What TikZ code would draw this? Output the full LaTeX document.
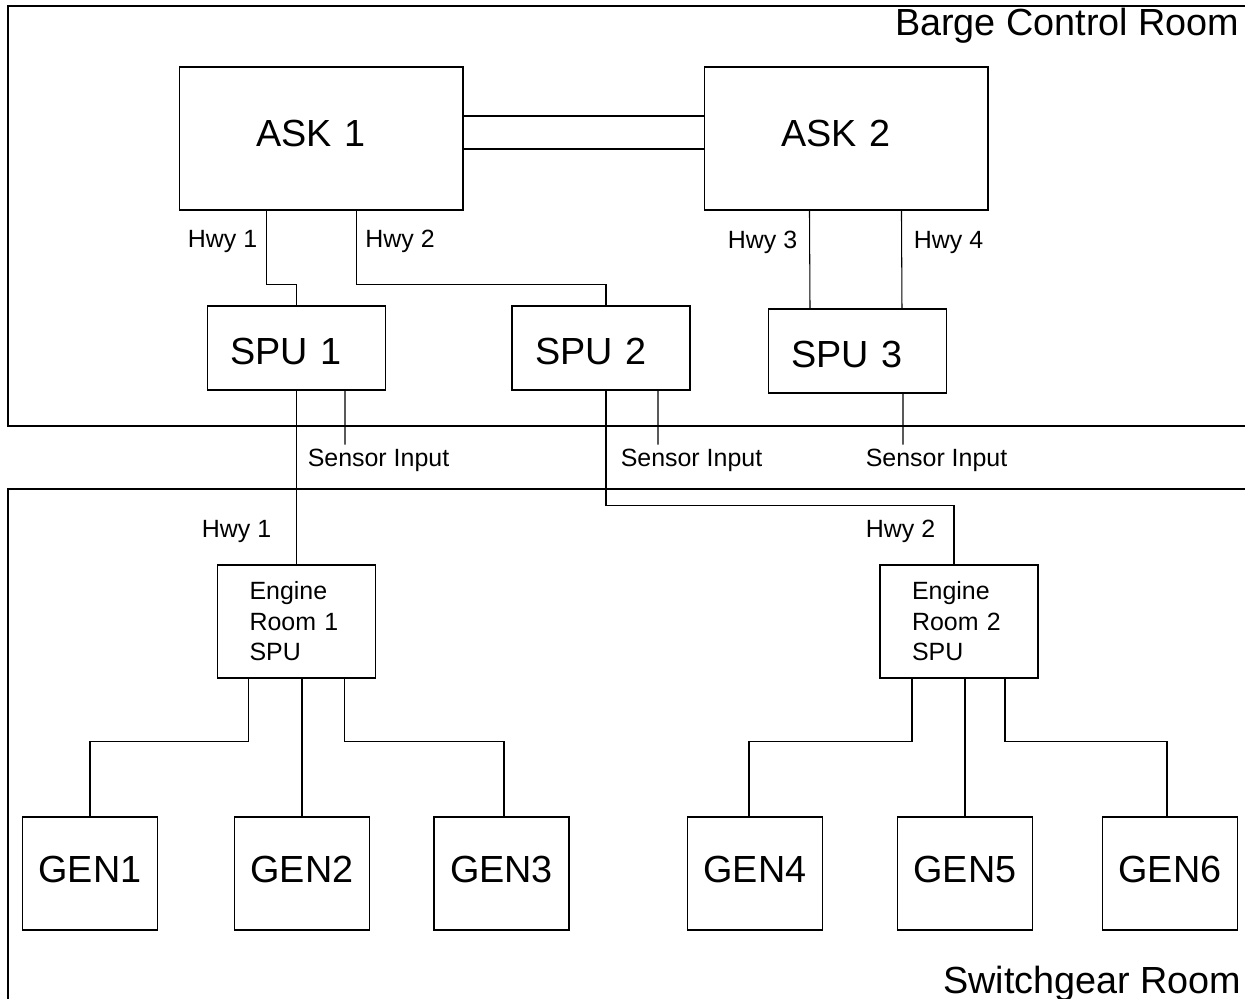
\documentclass[tikz,border=0pt]{standalone}
\usepackage{fontspec}
\setmainfont{Liberation Sans}
\newcommand{\bigtext}{\fontsize{21.5}{25}\selectfont}
\newcommand{\smalltext}{\fontsize{14.2}{17.4}\selectfont}

\begin{document}
\begin{tikzpicture}[x=.02cm,y=-.02cm,line width=.6pt,
  box/.style={draw,inner sep=0pt},
  askbox/.style={box,minimum width=5.68cm,minimum height=2.86cm,text width=2.6cm,align=left,font=\bigtext,text depth=5.6pt},
  spubox/.style={box,minimum width=3.56cm,minimum height=1.68cm,text width=2.64cm,align=left,font=\bigtext,text height=19.4pt},
  engbox/.style={box,minimum width=3.16cm,minimum height=2.26cm,text width=1.88cm,align=left,font=\smalltext},
  genbox/.style={box,minimum width=2.7cm,minimum height=2.26cm,font=\bigtext,text depth=4.4pt},
  lbl/.style={font=\smalltext,inner sep=2.5pt,anchor=base},
  room/.style={font=\bigtext,inner sep=0pt,anchor=base east}]
\useasboundingbox (0,0) rectangle (1245,999);
%rooms
\draw (1245,6) -- (8,6) -- (8,426) -- (1245,426);
\draw (1245,489) -- (8,489) -- (8,999);
\node[room] (barge) at (1240,36) {Barge Control Room};
\node[room] (switch) at (1242,993) {Switchgear Room};
%units
\node[askbox] (ask1) at (321,138.5) {ASK 1};
\node[askbox] (ask2) at (846,138.5) {ASK 2};
\node[spubox] (spu1) at (296.5,348) {SPU 1};
\node[spubox] (spu2) at (601,348) {SPU 2};
\node[spubox] (spu3) at (857.5,351) {SPU 3};
\node[engbox] (eng1) at (296.5,621.5) {Engine\\Room 1\\SPU};
\node[engbox] (eng2) at (959,621.5) {Engine\\Room 2\\SPU};
\foreach \x [count=\i] in {90,302,501.5,755,965,1170}
  \node[genbox] (gen\i) at (\x,873.5) {GEN\i};
%labels
\node[lbl] (hwy1) at (222.5,248) {Hwy 1};
\node[lbl] (hwy2) at (400,248) {Hwy 2};
\node[lbl] (hwy3) at (762.5,249) {Hwy 3};
\node[lbl] (hwy4) at (948.5,249) {Hwy 4};
\node[lbl] (hwy1b) at (236.5,538) {Hwy 1};
\node[lbl] (hwy2b) at (900.5,538) {Hwy 2};
\node[lbl] (sens1) at (378.5,467) {Sensor Input};
\node[lbl] (sens2) at (691.5,467) {Sensor Input};
\node[lbl] (sens3) at (936.5,467) {Sensor Input};
%ASK link
\draw ([yshift=.45cm]ask1.east) -- ([yshift=.45cm]ask2.west);
\draw ([yshift=-.21cm]ask1.east) -- ([yshift=-.21cm]ask2.west);
%highways
\draw (spu1.north) -- ++(0,-21) -| ([xshift=1.76cm]ask1.south west);
\draw ([xshift=.1cm]spu2.north) -- ++(0,-21) -| ([xshift=3.56cm]ask1.south west);
\draw ([xshift=2.12cm]ask2.south west) -- ([xshift=-.95cm]spu3.north);
\draw ([xshift=3.96cm]ask2.south west) -- ([xshift=.89cm]spu3.north);
%sensor inputs
\draw ([xshift=.97cm]spu1.south) -- ([xshift=-.67cm]sens1.north);
\draw ([xshift=1.14cm]spu2.south) -- ([xshift=-.67cm]sens2.north);
\draw ([xshift=.91cm]spu3.south) -- ([xshift=-.67cm]sens3.north);
%engine rooms
\draw (spu1.south) -- (eng1.north);
\draw ([xshift=-.1cm]eng2.north) -- ++(0,-59) -| ([xshift=.1cm]spu2.south);
%generators
\draw (gen1.north) -- ++(0,-75) -| ([xshift=-.96cm]eng1.south);
\draw (gen2.north) -- (gen2.north |- eng1.south);
\draw ([xshift=.05cm]gen3.north) -- ++(0,-75) -| ([xshift=.96cm]eng1.south);
\draw ([xshift=-.12cm]gen4.north) -- ++(0,-75) -| ([xshift=-.94cm]eng2.south);
\draw (gen5.north) -- (gen5.north |- eng2.south);
\draw ([xshift=-.06cm]gen6.north) -- ++(0,-75) -| ([xshift=.92cm]eng2.south);
\end{tikzpicture}
\end{document}
